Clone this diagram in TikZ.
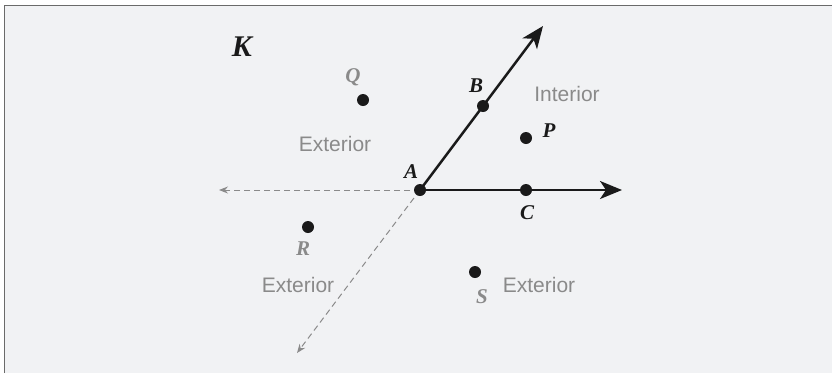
\documentclass[tikz,border=0pt]{standalone}
\usepackage{fontspec}
\setmainfont{Liberation Serif}
\setsansfont{Liberation Sans}
\usetikzlibrary{arrows.meta}
\definecolor{bgc}{HTML}{F1F2F4}
\definecolor{framec}{HTML}{6A6A6A}
\definecolor{lblgray}{HTML}{8A8A8A}
\definecolor{dk}{HTML}{1A1A1A}
\tikzset{
  dotpt/.style={circle,fill=dk,inner sep=0pt,minimum size=12pt},
  raystyle/.style={draw=dk,line width=2.5pt,-{Stealth[length=22pt,width=18pt,inset=6pt]}},
  dashray/.style={draw=lblgray,line width=1pt,dash pattern=on 6pt off 4pt,-{Stealth[length=9pt,width=7pt,inset=3pt]}},
  ptlabel/.style={font=\fontsize{21}{23}\selectfont\bfseries\itshape,text=dk,inner sep=0pt},
  graylabel/.style={font=\fontsize{21}{23}\selectfont\bfseries\itshape,text=lblgray,inner sep=0pt},
  region/.style={font=\sffamily\fontsize{21}{23}\selectfont,text=lblgray,inner sep=0pt}
}
\begin{document}
\begin{tikzpicture}[x=1pt,y=-1pt]
\useasboundingbox (0,0) rectangle (832,373);
\fill[white] (0,0) rectangle (832,373);
\fill[bgc] (4.5,5.5) rectangle (832,373);
\draw[framec,line width=1.2pt] (4.5,373) -- (4.5,5.5) -- (832,5.5);
% points
\coordinate (A) at (420,190);
\coordinate (Bend) at (543,26);
\coordinate (Cend) at (622,190);
\coordinate (Lend) at (219,190);
\coordinate (Dend) at (297,353);
% rays
\draw[dashray] (A) -- (Lend);
\draw[dashray] (A) -- (Dend);
\draw[raystyle] (A) -- (Bend);
\draw[raystyle] (A) -- (Cend);
\node[dotpt] (Adot) at (A) {};
\node[dotpt] (B) at (483,106) {};
\node[dotpt] (C) at (526,190) {};
\node[dotpt] (P) at (526,138) {};
\node[dotpt] (Q) at (363,100) {};
\node[dotpt] (R) at (308,227) {};
\node[dotpt] (S) at (475,272) {};
% labels
\node[font=\fontsize{30}{32}\selectfont\bfseries\itshape,text=dk,inner sep=0pt] (K) at (242,47) {K};
\node[ptlabel] (Alab) at (411,172) {A};
\node[ptlabel] (Blab) at (476,86) {B};
\node[ptlabel] (Clab) at (527,213) {C};
\node[ptlabel] (Plab) at (549,131) {P};
\node[graylabel] (Qlab) at (353,77) {Q};
\node[graylabel] (Rlab) at (303,249) {R};
\node[graylabel] (Slab) at (482,297) {S};
\node[region] (int) at (567,94) {Interior};
\node[region] (ext1) at (335,144) {Exterior};
\node[region] (ext2) at (298,285) {Exterior};
\node[region] (ext3) at (539,285) {Exterior};
\end{tikzpicture}
\end{document}
